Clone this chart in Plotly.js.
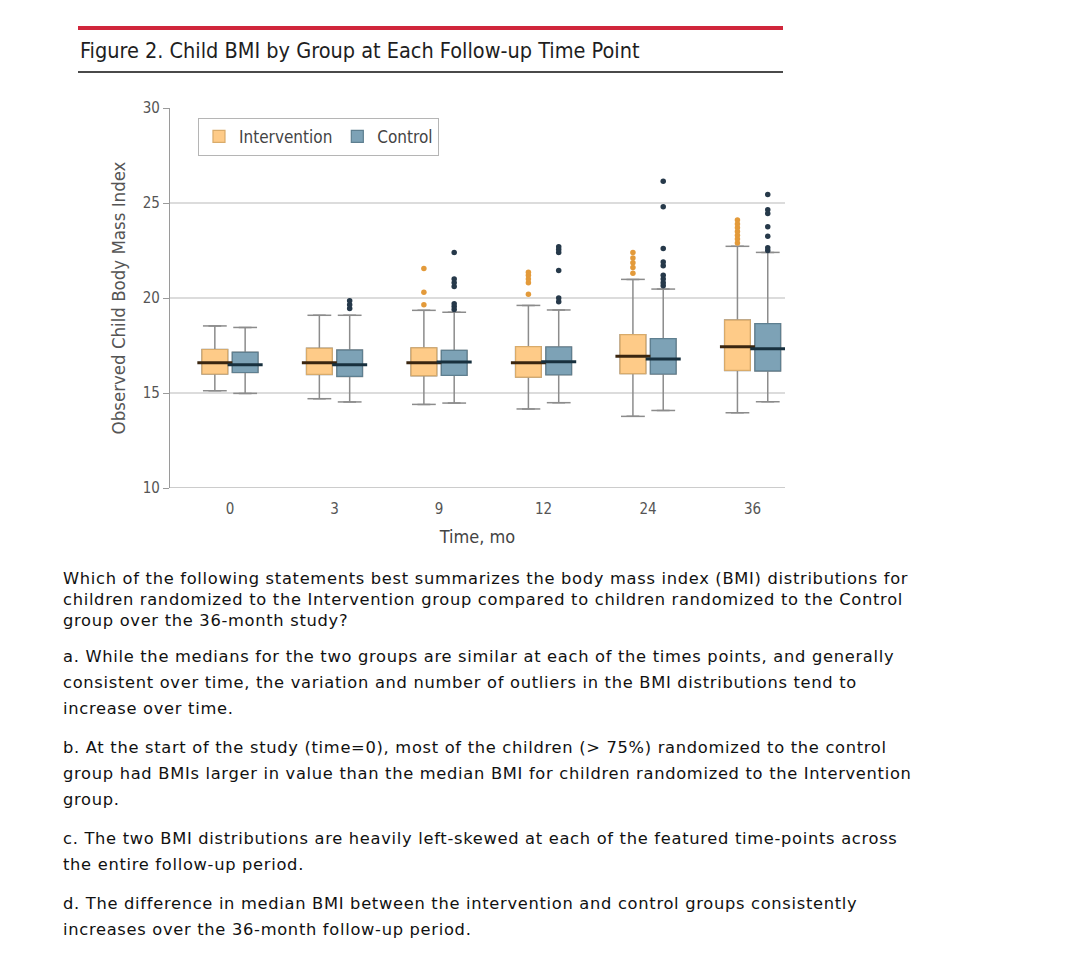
<!DOCTYPE html>
<html>
<head>
<meta charset="utf-8">
<script src="https://cdn.plot.ly/plotly-3.0.1.min.js"></script>
<style>
  html, body { margin: 0; padding: 0; background: #ffffff; }
  #chart { position: absolute; left: 0; top: 0; width: 1080px; height: 555px; }
  #text { position: absolute; left: 63px; top: 568px; width: 1010px;
          font-family: "DejaVu Sans", Verdana, sans-serif; font-size: 16.3px; color: #111; }
  #text p { margin: 0 0 13px 0; white-space: nowrap; line-height: 26px; letter-spacing: 0.7px; }
  #text p.q { line-height: 21px; }
</style>
</head>
<body>
<div id="chart"></div>
<div id="text">
<p class="q">Which of the following statements best summarizes the body mass index (BMI) distributions for<br>children randomized to the Intervention group compared to children randomized to the Control<br>group over the 36-month study?</p>
<p>a. While the medians for the two groups are similar at each of the times points, and generally<br>consistent over time, the variation and number of outliers in the BMI distributions tend to<br>increase over time.</p>
<p>b. At the start of the study (time=0), most of the children (&gt; 75%) randomized to the control<br>group had BMIs larger in value than the median BMI for children randomized to the Intervention<br>group.</p>
<p>c. The two BMI distributions are heavily left-skewed at each of the featured time-points across<br>the entire follow-up period.</p>
<p>d. The difference in median BMI between the intervention and control groups consistently<br>increases over the 36-month follow-up period.</p>
</div>
<script>
// ---- data ----
var timeLabels = ['0', '3', '9', '12', '24', '36'];

var intLower  = [15.12, 14.70, 14.40, 14.16, 13.77, 13.96];
var intQ1     = [16.00, 15.98, 15.91, 15.84, 16.02, 16.19];
var intMedian = [16.59, 16.59, 16.59, 16.59, 16.93, 17.44];
var intQ3     = [17.29, 17.35, 17.37, 17.44, 18.07, 18.84];
var intUpper  = [18.53, 19.09, 19.35, 19.61, 20.98, 22.72];
var intOutliers = [
  [],
  [],
  [19.65, 20.30, 21.55],
  [20.20, 20.80, 21.00, 21.20, 21.35],
  [21.30, 21.60, 21.85, 22.10, 22.40],
  [22.90, 23.10, 23.30, 23.50, 23.70, 23.90, 24.10]
];

var ctlLower  = [14.98, 14.53, 14.47, 14.49, 14.08, 14.54];
var ctlQ1     = [16.08, 15.87, 15.93, 15.96, 16.00, 16.16];
var ctlMedian = [16.49, 16.49, 16.63, 16.65, 16.79, 17.33];
var ctlQ3     = [17.14, 17.26, 17.24, 17.42, 17.86, 18.65];
var ctlUpper  = [18.45, 19.09, 19.25, 19.37, 20.47, 22.40];
var ctlOutliers = [
  [],
  [19.45, 19.65, 19.85],
  [19.40, 19.55, 19.70, 20.60, 20.80, 21.00, 22.40],
  [19.80, 20.00, 21.45, 22.40, 22.55, 22.70],
  [20.65, 20.80, 21.00, 21.20, 21.70, 21.90, 22.60, 24.80, 26.15],
  [22.50, 22.65, 23.25, 23.75, 24.45, 24.65, 25.45]
];

// ---- styling / construction ----
var OFFSET = 0.145;
var BOXW = 0.245;
var condensed = '"Liberation Sans Narrow", "DejaVu Sans Condensed", "Roboto Condensed", sans-serif';

var groups = [
  {name: 'Intervention', off: -OFFSET, lower: intLower, q1: intQ1, med: intMedian, q3: intQ3, upper: intUpper,
   out: intOutliers, fill: '#FECB88', outline: '#D9AB6A', medColor: '#3a2610', ptColor: '#E39A3A'},
  {name: 'Control', off: OFFSET, lower: ctlLower, q1: ctlQ1, med: ctlMedian, q3: ctlQ3, upper: ctlUpper,
   out: ctlOutliers, fill: '#7DA2B6', outline: '#5E7F90', medColor: '#18303e', ptColor: '#26394A'}
];

var idx = timeLabels.map(function (_, i) { return i; });
var traces = [];

groups.forEach(function (g) {
  var xs = idx.map(function (i) { return i + g.off; });
  // whiskers (grey)
  traces.push({
    type: 'box', x: xs, q1: g.q1, median: g.med, q3: g.q3,
    lowerfence: g.lower, upperfence: g.upper, width: BOXW,
    line: {color: '#8c8c8c', width: 1.5}, fillcolor: 'rgba(0,0,0,0)',
    showlegend: false, hoverinfo: 'skip'
  });
  // whisker caps
  var capX = [], capY = [];
  idx.forEach(function (i) {
    capX.push(xs[i], xs[i]); capY.push(g.lower[i], g.upper[i]);
  });
  traces.push({
    type: 'scatter', mode: 'markers', x: capX, y: capY, showlegend: false, hoverinfo: 'skip',
    marker: {symbol: 'line-ew', size: 17, line: {color: '#8c8c8c', width: 1.5}}
  });
  // box body
  traces.push({
    type: 'box', name: g.name, x: xs, q1: g.q1, median: g.med, q3: g.q3,
    lowerfence: g.q1, upperfence: g.q3, width: BOXW,
    line: {color: g.outline, width: 1.2}, fillcolor: g.fill, showlegend: true
  });
  // median line
  traces.push({
    type: 'scatter', mode: 'markers', x: xs, y: g.med, showlegend: false, hoverinfo: 'skip',
    marker: {symbol: 'line-ew', size: 25, line: {color: g.medColor, width: 3}}
  });
  // outliers
  var ox = [], oy = [];
  idx.forEach(function (i) {
    g.out[i].forEach(function (v) { ox.push(xs[i]); oy.push(v); });
  });
  traces.push({
    type: 'scatter', mode: 'markers', x: ox, y: oy, showlegend: false,
    marker: {color: g.ptColor, size: 5.5}
  });
});

var layout = {
  width: 1080, height: 555,
  margin: {l: 170, r: 295, t: 108, b: 67},
  paper_bgcolor: '#ffffff', plot_bgcolor: '#ffffff',
  font: {family: condensed, color: '#444'},
  title: {
    text: 'Figure 2. Child BMI by Group at Each Follow-up Time Point',
    font: {family: condensed, size: 21.5, color: '#1e1e1e', weight: 'normal'},
    xref: 'container', yref: 'container', x: 80 / 1080, xanchor: 'left', y: 1 - 50 / 555, yanchor: 'middle'
  },
  xaxis: {
    range: [-0.574, 5.31], tickvals: idx, ticktext: timeLabels,
    showgrid: false, zeroline: false, showline: false,
    ticks: 'outside', ticklen: 7, tickcolor: 'rgba(0,0,0,0)',
    tickfont: {size: 15, color: '#555'},
    title: {text: 'Time, mo', font: {size: 18, color: '#444'}, standoff: 13}
  },
  yaxis: {
    range: [10, 30], dtick: 5, showgrid: true, gridcolor: '#dcdcdc', gridwidth: 1.5,
    zeroline: false, showline: true, linecolor: '#9a9a9a', linewidth: 1.2,
    ticks: 'outside', ticklen: 6, tickcolor: '#9a9a9a', tickfont: {size: 15, color: '#555'},
    title: {text: 'Observed Child Body Mass Index', font: {size: 18.5, color: '#555'}, standoff: 12}
  },
  showlegend: true,
  legend: {
    orientation: 'h', x: 0.0455, xanchor: 'left', y: 0.974, yanchor: 'top',
    bordercolor: '#b5b5b5', borderwidth: 1, bgcolor: '#ffffff',
    font: {size: 17, color: '#444', family: condensed}
  },
  shapes: [
    {type: 'line', xref: 'paper', yref: 'paper', x0: (78 - 170) / 615, x1: (783 - 170) / 615,
     y0: (488 - 28) / 380, y1: (488 - 28) / 380, line: {color: '#d0263b', width: 4}},
    {type: 'line', xref: 'paper', yref: 'paper', x0: (78 - 170) / 615, x1: (783 - 170) / 615,
     y0: (488 - 72) / 380, y1: (488 - 72) / 380, line: {color: '#4a4a4a', width: 2}},
    {type: 'line', xref: 'paper', yref: 'y', x0: 0, x1: 1, y0: 10, y1: 10, line: {color: '#9a9a9a', width: 1.2}}
  ]
};

Plotly.newPlot('chart', traces, layout, {displayModeBar: false, staticPlot: true});
</script>
</body>
</html>
